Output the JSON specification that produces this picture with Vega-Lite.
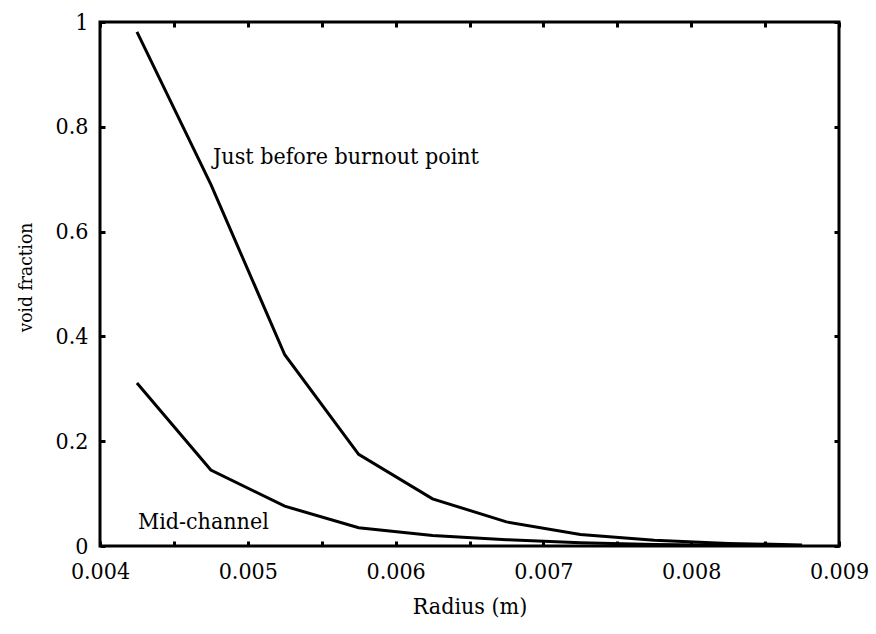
{
  "$schema": "https://vega.github.io/schema/vega-lite/v6.json",
  "width": 739,
  "height": 524,
  "autosize": "none",
  "padding": {"left": 100, "top": 22, "right": 37, "bottom": 88},
  "background": "white",
  "config": {
    "view": {"stroke": "black", "strokeWidth": 3},
    "font": "DejaVu Serif Condensed",
    "text": {"font": "DejaVu Serif Condensed"},
    "axis": {
      "domain": false,
      "grid": false,
      "tickColor": "black",
      "tickWidth": 3,
      "tickSize": -5,
      "labelFont": "DejaVu Serif Condensed",
      "labelFontSize": 23,
      "labelColor": "black",
      "titleFont": "DejaVu Serif Condensed",
      "titleFontSize": 23,
      "titleFontWeight": "normal",
      "titleColor": "black"
    }
  },
  "datasets": {
    "lines": [
      {"series": "burnout", "r": 0.00425, "v": 0.981},
      {"series": "burnout", "r": 0.00475, "v": 0.69},
      {"series": "burnout", "r": 0.00525, "v": 0.365},
      {"series": "burnout", "r": 0.00575, "v": 0.175},
      {"series": "burnout", "r": 0.00625, "v": 0.09},
      {"series": "burnout", "r": 0.00675, "v": 0.046},
      {"series": "burnout", "r": 0.00725, "v": 0.022},
      {"series": "burnout", "r": 0.00775, "v": 0.011},
      {"series": "burnout", "r": 0.00825, "v": 0.005},
      {"series": "burnout", "r": 0.00875, "v": 0.002},
      {"series": "mid", "r": 0.00425, "v": 0.311},
      {"series": "mid", "r": 0.00475, "v": 0.145},
      {"series": "mid", "r": 0.00525, "v": 0.076},
      {"series": "mid", "r": 0.00575, "v": 0.035},
      {"series": "mid", "r": 0.00625, "v": 0.02},
      {"series": "mid", "r": 0.00675, "v": 0.012},
      {"series": "mid", "r": 0.00725, "v": 0.006},
      {"series": "mid", "r": 0.00775, "v": 0.003},
      {"series": "mid", "r": 0.00825, "v": 0.0015},
      {"series": "mid", "r": 0.00875, "v": 0.0005}
    ],
    "labels": [
      {"r": 0.004765, "v": 0.729, "label": "Just before burnout point"},
      {"r": 0.004257, "v": 0.032, "label": "Mid-channel"}
    ]
  },
  "layer": [
    {
      "data": {"name": "lines"},
      "mark": {"type": "line", "color": "black", "strokeWidth": 3, "clip": true},
      "encoding": {
        "x": {
          "field": "r", "type": "quantitative",
          "scale": {"domain": [0.004, 0.009], "nice": false, "zero": false},
          "axis": {
            "orient": "bottom",
            "values": [0.004, 0.0045, 0.005, 0.0055, 0.006, 0.0065, 0.007, 0.0075, 0.008, 0.0085, 0.009],
            "labelExpr": "round(datum.value*10000) % 10 == 0 ? format(datum.value, '.3f') : ''",
            "labelPadding": 19,
            "labelFlush": false,
            "labelOverlap": false,
            "title": "Radius (m)",
            "titleBaseline": "alphabetic",
            "titleY": 67
          }
        },
        "y": {
          "field": "v", "type": "quantitative",
          "scale": {"domain": [0, 1], "nice": false},
          "axis": {
            "orient": "left",
            "values": [0, 0.2, 0.4, 0.6, 0.8, 1],
            "format": "~f",
            "labelPadding": 17,
            "labelFlush": false,
            "labelOverlap": false,
            "title": "void fraction",
            "titleFontSize": 19,
            "titleBaseline": "middle",
            "titleX": -75,
            "titleY": 255
          }
        },
        "detail": {"field": "series", "type": "nominal"}
      }
    },
    {
      "data": {"name": "labels"},
      "mark": {"type": "text", "align": "left", "baseline": "alphabetic", "fontSize": 23, "color": "black"},
      "encoding": {
        "x": {"field": "r", "type": "quantitative", "axis": {"orient": "top", "values": [0.004, 0.0045, 0.005, 0.0055, 0.006, 0.0065, 0.007, 0.0075, 0.008, 0.0085, 0.009], "labels": false, "title": null}},
        "y": {"field": "v", "type": "quantitative", "axis": {"orient": "right", "values": [0, 0.2, 0.4, 0.6, 0.8, 1], "labels": false, "title": null}},
        "text": {"field": "label", "type": "nominal"}
      }
    }
  ]
}
